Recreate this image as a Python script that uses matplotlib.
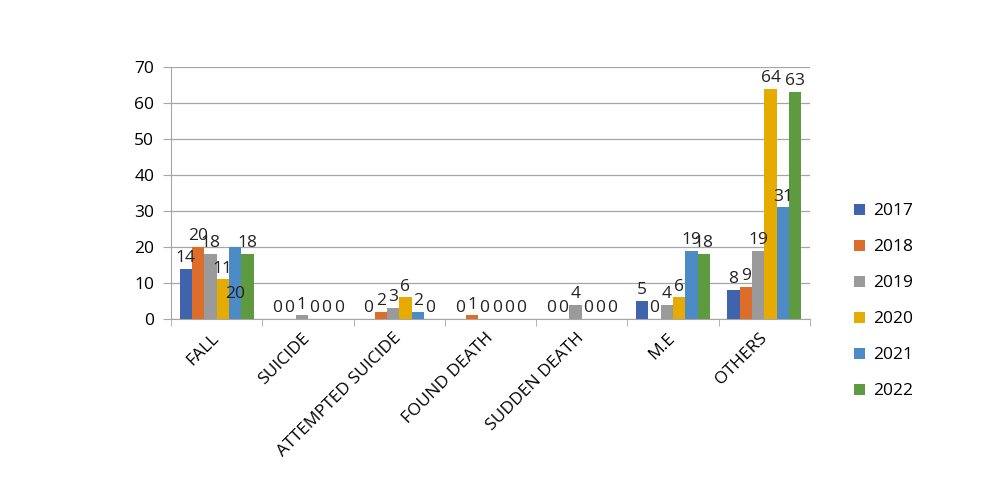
import numpy as np
import matplotlib.pyplot as plt

# data
categories = ["FALL", "SUICIDE", "ATTEMPTED SUICIDE", "FOUND DEATH",
              "SUDDEN DEATH", "M.E", "OTHERS"]
years = ["2017", "2018", "2019", "2020", "2021", "2022"]
v2017 = [14, 0, 0, 0, 0, 5, 8]
v2018 = [20, 0, 2, 1, 0, 0, 9]
v2019 = [18, 1, 3, 0, 4, 4, 19]
v2020 = [11, 0, 6, 0, 0, 6, 64]
v2021 = [20, 0, 2, 0, 0, 19, 31]
v2022 = [18, 0, 0, 0, 0, 18, 63]
series = [v2017, v2018, v2019, v2020, v2021, v2022]

colors = ['#3F63AC', '#DD6D2A', '#9A9A9A', '#E5AB00', '#4D8BC7', '#5E9A3F']

plt.rcParams['font.family'] = ['Open Sans', 'DejaVu Sans']
fs = 12.5

fig = plt.figure(figsize=(10, 5), dpi=100)
ax = fig.add_axes([0.171, 0.362, 0.639, 0.504])

x = np.arange(len(categories))
bw = 0.135
for i, (vals, c, yr) in enumerate(zip(series, colors, years)):
    pos = x + (i - 2.5) * bw
    ax.bar(pos, vals, width=bw, color=c, label=yr, zorder=3)
    for j, (p, v) in enumerate(zip(pos, vals)):
        # Excel pushed the FALL 2021 label down into the bar
        if i == 4 and j == 0:
            ax.annotate(str(v), (p, v), xytext=(0, -34), textcoords='offset points',
                        ha='center', va='center', fontsize=fs, color='#222222', zorder=4)
            continue
        ax.annotate(str(v), (p, v), xytext=(0, 2), textcoords='offset points',
                    ha='center', va='bottom', fontsize=fs, color='#222222', zorder=4)

ax.set_xlim(-0.5, len(categories) - 0.5)
ax.set_ylim(0, 70)
ax.set_yticks(range(0, 71, 10))
ax.grid(axis='y', color='#A6A6A6', linewidth=0.9, zorder=0)

ax.set_xticks(x)
ax.set_xticklabels(categories, rotation=45, ha='right', va='center',
                   rotation_mode='anchor', fontsize=fs)
ax.tick_params(axis='x', which='major', length=0, pad=12)
ax.set_xticks(np.arange(-0.5, len(categories)), minor=True)
ax.tick_params(axis='x', which='minor', length=5, color='#A6A6A6')
ax.tick_params(axis='y', length=6, color='#A6A6A6', labelsize=fs, pad=6)

for s in ['top', 'right']:
    ax.spines[s].set_visible(False)
for s in ['left', 'bottom']:
    ax.spines[s].set_color('#A6A6A6')

ax.legend(loc='center left', bbox_to_anchor=(1.045, 0.07),
          frameon=False, fontsize=fs, handlelength=0.6, handleheight=0.6,
          labelspacing=1.15, handletextpad=0.5)

fig.savefig('out.png', dpi=100)
